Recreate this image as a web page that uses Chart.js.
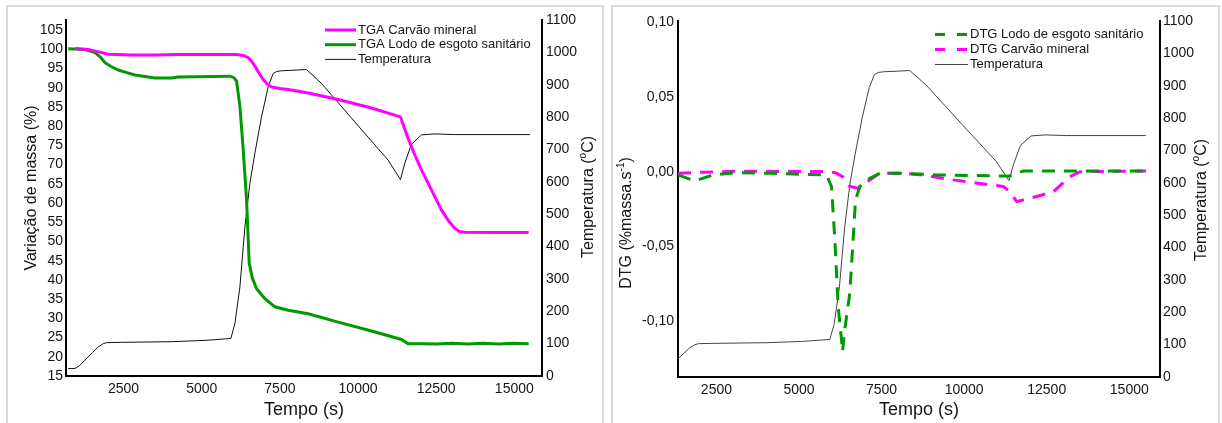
<!DOCTYPE html>
<html>
<head>
<meta charset="utf-8">
<script src="https://cdn.jsdelivr.net/npm/chart.js@4.4.0/dist/chart.umd.min.js"></script>
<style>
  html, body { margin: 0; padding: 0; background: #fff; }
  #page { position: relative; width: 1222px; height: 423px; overflow: hidden; }
  .panel { position: absolute; top: 5px; height: 440px; border: 2px solid #dadada; box-sizing: border-box; }
  .holder { position: absolute; top: 0; height: 423px; }
</style>
</head>
<body>
<div id="page">
  <div class="panel" style="left:6px;width:598px"></div>
  <div class="panel" style="left:611px;width:609px"></div>
  <div class="holder" style="left:0;width:608px"><canvas id="tgaChart"></canvas></div>
  <div class="holder" style="left:608px;width:614px"><canvas id="dtgChart"></canvas></div>
</div>
<script>
// ---- dados ----
const timeTicks = [2500, 5000, 7500, 10000, 12500, 15000];
const massTicks = [15, 20, 25, 30, 35, 40, 45, 50, 55, 60, 65, 70, 75, 80, 85, 90, 95, 100, 105];
const tempTicks = [0, 100, 200, 300, 400, 500, 600, 700, 800, 900, 1000, 1100];
const dtgTicks = [-0.10, -0.05, 0, 0.05, 0.10];

const tempTime = [730, 945, 1100, 1265, 1500, 1691, 1850, 1958, 2437, 4036, 5102, 5933, 6061, 6221, 6381, 6540, 6700, 6913, 7126, 7286, 7400, 7553, 7979, 8352, 8831, 9897, 10963, 11357, 11495, 11708, 12029, 12455, 13094, 15500];
const tempValues = [23, 23, 33, 49, 72, 90, 100, 103, 104, 106, 110, 116, 162, 275, 461, 595, 688, 801, 894, 935, 941, 943, 945, 947, 904, 785, 667, 607, 657, 716, 745, 748, 746, 746];

const tgaCarvaoTime = [945, 1372, 1700, 2011, 2757, 3500, 4249, 5500, 6114, 6350, 6487, 6600, 6700, 6830, 6967, 7100, 7233, 7500, 7766, 8405, 9365, 10430, 11357, 11450, 11602, 11800, 12029, 12348, 12668, 12900, 13094, 13250, 13414, 14500, 15460];
const tgaCarvaoPct = [100.2, 99.9, 99.3, 98.7, 98.5, 98.5, 98.6, 98.6, 98.6, 98.3, 97.8, 96.8, 95.6, 93.8, 92.1, 90.9, 90.2, 89.8, 89.5, 88.6, 86.9, 84.7, 82.4, 80.2, 76.8, 72.8, 68.6, 63.4, 58.2, 55.3, 53.4, 52.6, 52.4, 52.3, 52.3];

const tgaLodoTime = [732, 1265, 1585, 1750, 1905, 2100, 2331, 2600, 2864, 3503, 4036, 4249, 5901, 6030, 6114, 6221, 6327, 6434, 6519, 6620, 6754, 7020, 7340, 7766, 8405, 9365, 10430, 11389, 11602, 12029, 12500, 13000, 13500, 14000, 14500, 15000, 15460];
const tgaLodoPct = [100.1, 99.9, 99.1, 98.0, 96.5, 95.5, 94.6, 93.9, 93.3, 92.5, 92.5, 92.8, 93.0, 92.6, 91.7, 85.2, 73.8, 60.8, 44.3, 40.5, 37.7, 35.1, 33.0, 32.1, 31.2, 29.0, 26.7, 24.5, 23.4, 23.4, 23.3, 23.5, 23.3, 23.5, 23.3, 23.5, 23.4];

const dtgLodoTime = [1340, 1843, 2398, 3105, 4115, 5832, 5984, 6085, 6186, 6287, 6317, 6388, 6539, 6640, 6711, 6842, 7145, 7448, 8155, 9165, 11185, 11357, 11791, 15510];
const dtgLodoValues = [-0.0022, -0.0062, -0.0022, -0.0007, -0.0011, -0.0022, -0.0099, -0.045, -0.090, -0.112, -0.120, -0.105, -0.081, -0.045, -0.019, -0.0099, -0.0044, -0.0011, -0.0011, -0.0022, -0.0029, -0.003, 0.0004, 0.0004];

const dtgCarvaoTime = [1340, 2095, 3105, 5933, 6135, 6337, 6539, 6792, 7145, 7448, 8155, 8660, 9670, 11185, 11387, 11589, 12195, 12700, 13205, 13508, 15510];
const dtgCarvaoValues = [-0.0011, -0.0004, 0.0003, 0.0, -0.001, -0.0037, -0.0099, -0.011, -0.0055, -0.001, -0.001, -0.002, -0.0055, -0.0099, -0.0133, -0.020, -0.0166, -0.0133, -0.0033, 0.0, 0.0004];

const FONT = 'Arial, "Liberation Sans", Helvetica, sans-serif';
const INK = '#151515';
const PINK = '#ff00ff';
const GREEN = '#009900';
const TICK_FONT = { size: 14 };

const zip = (xs, ys) => xs.map((x, i) => ({ x: x, y: ys[i] }));
const fixedTicks = values => axis => {
  axis.ticks = values.map(v => ({ value: v }));
};
const plain = v => String(v);

// titulos verticais com sobrescrito
const sideTitles = {
  id: 'sideTitles',
  afterDraw(chart, args, opts) {
    const ctx = chart.ctx;
    (opts.items || []).forEach(item => {
      const big = item.size + 'px ' + FONT;
      const small = Math.round(item.size * 0.62) + 'px ' + FONT;
      ctx.save();
      ctx.translate(item.x, item.y);
      ctx.rotate(-Math.PI / 2);
      ctx.fillStyle = INK;
      ctx.textBaseline = 'middle';
      ctx.textAlign = 'left';
      let total = 0;
      item.parts.forEach(p => { ctx.font = p.sup ? small : big; total += ctx.measureText(p.text).width; });
      let x = -total / 2;
      item.parts.forEach(p => {
        ctx.font = p.sup ? small : big;
        ctx.fillText(p.text, x, p.sup ? -item.size * 0.38 : 0);
        x += ctx.measureText(p.text).width;
      });
      ctx.restore();
    });
  }
};

// legenda dentro da area do grafico
const insideLegend = {
  id: 'insideLegend',
  afterDraw(chart, args, opts) {
    if (!opts.order) return;
    const ctx = chart.ctx;
    opts.order.forEach((di, row) => {
      const ds = chart.data.datasets[di];
      const y = opts.top + row * opts.rowGap;
      ctx.save();
      ctx.strokeStyle = ds.borderColor;
      ctx.lineWidth = ds.borderWidth;
      ctx.setLineDash(ds.borderDash ? opts.sampleDash : []);
      ctx.beginPath();
      ctx.moveTo(opts.left, y);
      ctx.lineTo(opts.left + opts.lineLength, y);
      ctx.stroke();
      ctx.setLineDash([]);
      ctx.fillStyle = INK;
      ctx.font = '13px ' + FONT;
      ctx.textBaseline = 'middle';
      ctx.fillText(ds.label, opts.left + opts.lineLength + 2, y);
      ctx.restore();
    });
  }
};

Chart.register(sideTitles, insideLegend);
Chart.defaults.font.family = FONT;
Chart.defaults.color = INK;

const axisBase = {
  grid: { display: false, drawTicks: false },
  border: { display: true, color: '#000', width: 2 }
};

const xAxis = (min, max, height) => ({
  ...axisBase,
  type: 'linear',
  min: min,
  max: max,
  afterBuildTicks: fixedTicks(timeTicks),
  afterFit: s => { s.height = height; },
  ticks: { padding: 5, maxRotation: 0, autoSkip: false, font: TICK_FONT, callback: plain },
  title: { display: true, text: 'Tempo (s)', color: INK, font: { size: 18 }, padding: { top: 0, bottom: 2 } }
});

// ---- TGA ----
new Chart(document.getElementById('tgaChart'), {
  type: 'line',
  data: {
    datasets: [
      { label: 'TGA Carvão mineral', data: zip(tgaCarvaoTime, tgaCarvaoPct), borderColor: PINK, borderWidth: 3, yAxisID: 'yMass' },
      { label: 'TGA Lodo de esgoto sanitário', data: zip(tgaLodoTime, tgaLodoPct), borderColor: GREEN, borderWidth: 3, yAxisID: 'yMass' },
      { label: 'Temperatura', data: zip(tempTime, tempValues), borderColor: '#111', borderWidth: 1, yAxisID: 'yTemp' }
    ]
  },
  options: {
    responsive: true,
    maintainAspectRatio: false,
    animation: false,
    devicePixelRatio: 1,
    elements: { point: { radius: 0 }, line: { tension: 0 } },
    layout: { padding: { top: 20, left: 0, right: 0, bottom: 0 } },
    scales: {
      x: xAxis(658, 15885, 47),
      yMass: {
        ...axisBase,
        position: 'left',
        min: 15,
        max: 107.6,
        afterBuildTicks: fixedTicks(massTicks),
        afterFit: s => { s.width = 66; },
        ticks: { padding: 3, autoSkip: false, font: TICK_FONT, callback: plain }
      },
      yTemp: {
        ...axisBase,
        position: 'right',
        min: 0,
        max: 1100,
        afterBuildTicks: fixedTicks(tempTicks),
        afterFit: s => { s.width = 66; },
        ticks: { padding: 4, autoSkip: false, font: TICK_FONT, callback: plain }
      }
    },
    plugins: {
      legend: { display: false },
      tooltip: { enabled: false },
      insideLegend: { order: [0, 1, 2], left: 325, top: 30, rowGap: 14.7, lineLength: 31, sampleDash: [] },
      sideTitles: {
        items: [
          { x: 32, y: 188, size: 16, parts: [{ text: 'Variação de massa (%)' }] },
          { x: 589, y: 197, size: 16, parts: [{ text: 'Temperatura (' }, { text: 'o', sup: true }, { text: 'C)' }] }
        ]
      }
    }
  }
});

// ---- DTG ----
new Chart(document.getElementById('dtgChart'), {
  type: 'line',
  data: {
    datasets: [
      { label: 'DTG Lodo de esgoto sanitário', data: zip(dtgLodoTime, dtgLodoValues), borderColor: GREEN, borderWidth: 3, borderDash: [13, 9], yAxisID: 'yDtg' },
      { label: 'DTG Carvão mineral', data: zip(dtgCarvaoTime, dtgCarvaoValues), borderColor: PINK, borderWidth: 3, borderDash: [13, 9], yAxisID: 'yDtg' },
      { label: 'Temperatura', data: zip(tempTime, tempValues), borderColor: '#444', borderWidth: 1, yAxisID: 'yTemp' }
    ]
  },
  options: {
    responsive: true,
    maintainAspectRatio: false,
    animation: false,
    devicePixelRatio: 1,
    elements: { point: { radius: 0 }, line: { tension: 0 } },
    layout: { padding: { top: 21, left: 0, right: 0, bottom: 0 } },
    scales: {
      x: xAxis(1337, 15930, 46),
      yDtg: {
        ...axisBase,
        position: 'left',
        min: -0.137,
        max: 0.1005,
        afterBuildTicks: fixedTicks(dtgTicks),
        afterFit: s => { s.width = 70; },
        ticks: {
          padding: 4,
          autoSkip: false,
          font: TICK_FONT,
          callback: v => (Math.abs(v) < 1e-9 ? 0 : v).toFixed(2).replace('.', ',')
        }
      },
      yTemp: {
        ...axisBase,
        position: 'right',
        min: 0,
        max: 1100,
        afterBuildTicks: fixedTicks(tempTicks),
        afterFit: s => { s.width = 62; },
        ticks: { padding: 3, autoSkip: false, font: TICK_FONT, callback: plain }
      }
    },
    plugins: {
      legend: { display: false },
      tooltip: { enabled: false },
      insideLegend: { order: [0, 1, 2], left: 327, top: 34.5, rowGap: 15, lineLength: 33, sampleDash: [10, 12] },
      sideTitles: {
        items: [
          { x: 19, y: 223, size: 16, parts: [{ text: 'DTG (%massa.s' }, { text: '-1', sup: true }, { text: ')' }] },
          { x: 594, y: 200, size: 16, parts: [{ text: 'Temperatura (' }, { text: 'o', sup: true }, { text: 'C)' }] }
        ]
      }
    }
  }
});
</script>
</body>
</html>
